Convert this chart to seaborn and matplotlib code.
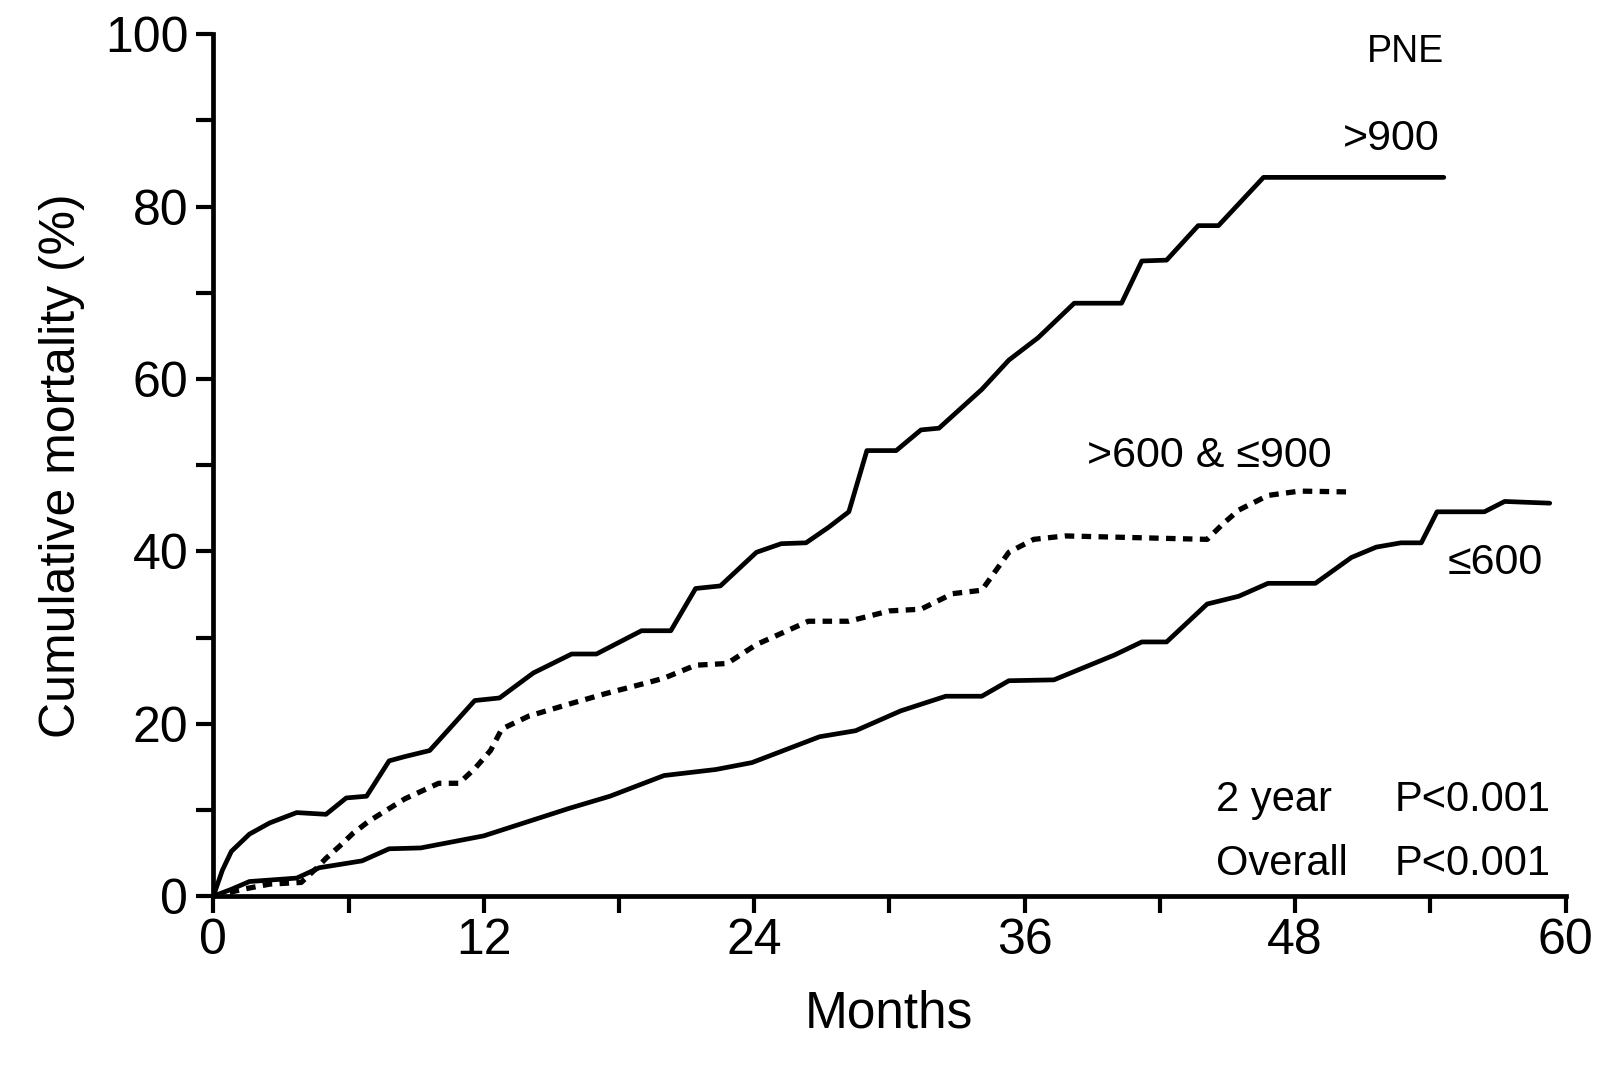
import pandas as pd
import seaborn as sns
import matplotlib.pyplot as plt
from matplotlib.ticker import MultipleLocator

sns.set_style("ticks")
plt.rcParams['font.family'] = ['Liberation Sans', 'DejaVu Sans']
plt.rcParams.update({"text.color": "black", "axes.labelcolor": "black",
                     "xtick.color": "black", "ytick.color": "black",
                     "axes.edgecolor": "black"})

# PNE > 900
hi_months = [0, 0.4, 0.8, 1.6, 2.5, 3.7, 5.0, 5.9, 6.8, 7.8, 8.5, 9.6, 10.5, 11.6, 12.7,
             14.2, 15.9, 17.0, 19.0, 20.3, 21.4, 22.5, 24.1, 25.2, 26.3, 27.3, 28.2,
             29.0, 30.3, 31.4, 32.2, 34.1, 35.3, 36.6, 38.2, 40.3, 41.2, 42.3, 43.7,
             44.6, 46.6, 54.6]
hi_pct = [0, 3.0, 5.2, 7.2, 8.5, 9.7, 9.5, 11.4, 11.6, 15.7, 16.2, 16.9, 19.5, 22.7, 23.0,
          25.9, 28.1, 28.1, 30.8, 30.8, 35.7, 36.0, 39.9, 40.9, 41.0, 42.8, 44.6,
          51.7, 51.7, 54.1, 54.3, 58.8, 62.2, 64.8, 68.8, 68.8, 73.7, 73.8, 77.8,
          77.8, 83.4, 83.4]

# PNE > 600 & <= 900
mid_months = [0, 1.3, 2.5, 3.9, 4.6, 5.0, 5.6, 6.2, 6.9, 8.5, 10.0, 10.9, 11.6, 12.3,
              12.8, 14.0, 15.8, 17.4, 19.3, 20.0, 21.4, 22.8, 24.1, 26.4, 28.2, 30.0,
              31.4, 32.8, 34.1, 35.3, 36.4, 37.8, 44.1, 44.8, 45.5, 46.8, 48.2, 50.5]
mid_pct = [0, 0.8, 1.4, 1.6, 3.3, 4.4, 5.8, 7.3, 8.7, 11.3, 13.1, 13.1, 14.8, 16.9,
           19.4, 20.9, 22.3, 23.5, 24.8, 25.3, 26.8, 27.0, 29.2, 31.9, 31.9, 33.1,
           33.3, 35.1, 35.5, 39.9, 41.4, 41.8, 41.4, 43.2, 44.8, 46.5, 47.0, 46.9]

# PNE <= 600
lo_months = [0, 0.8, 1.6, 3.7, 4.7, 6.6, 7.8, 9.2, 12.0, 15.8, 17.6, 20.0, 22.3, 23.9,
             26.9, 28.5, 30.5, 32.5, 34.1, 35.3, 37.3, 40.0, 41.2, 42.3, 44.1, 45.5,
             46.8, 48.9, 50.5, 51.6, 52.7, 53.6, 54.3, 56.4, 57.3, 59.3]
lo_pct = [0, 0.8, 1.7, 2.1, 3.3, 4.1, 5.5, 5.6, 7.0, 10.2, 11.6, 14.0, 14.7, 15.5,
          18.5, 19.2, 21.5, 23.2, 23.2, 25.0, 25.1, 28.0, 29.5, 29.5, 33.9, 34.8,
          36.3, 36.3, 39.3, 40.5, 41.0, 41.0, 44.6, 44.6, 45.8, 45.6]

fig = plt.figure(figsize=(16.04, 10.72), dpi=100)
ax = fig.add_axes([0.133, 0.164, 0.843, 0.804])

sns.lineplot(x=hi_months, y=hi_pct, ax=ax, color="black", lw=3.4, estimator=None, sort=False)
sns.lineplot(x=lo_months, y=lo_pct, ax=ax, color="black", lw=3.4, estimator=None, sort=False)
sns.lineplot(x=mid_months, y=mid_pct, ax=ax, color="black", lw=3.8, estimator=None,
             sort=False, linestyle=(0, (1.8, 1.4)))

ax.set_xlim(0, 60)
ax.set_ylim(0, 100)
ax.xaxis.set_major_locator(MultipleLocator(12))
ax.xaxis.set_minor_locator(MultipleLocator(6))
ax.yaxis.set_major_locator(MultipleLocator(20))
ax.yaxis.set_minor_locator(MultipleLocator(10))
sns.despine(ax=ax)
for s in ["left", "bottom"]:
    ax.spines[s].set_linewidth(3.4)
ax.tick_params(which="both", direction="out", length=12, width=3, color="black")
ax.tick_params(axis="y", labelsize=36, pad=6)
ax.tick_params(axis="x", labelsize=36, pad=4)

ax.set_xlabel("Months", fontsize=37, labelpad=18)
ax.set_ylabel("Cumulative mortality (%)", fontsize=36, labelpad=14)

ax.text(54.6, 98, "PNE", fontsize=27, ha="right", va="center")
ax.text(54.4, 87.9, ">900", fontsize=31, ha="right", va="center")
ax.text(44.2, 51.1, ">600 & ≤900", fontsize=31, ha="center", va="center")
ax.text(56.9, 38.7, "≤600", fontsize=31, ha="center", va="center")
ax.text(44.5, 11.2, "2 year", fontsize=30, ha="left", va="center")
ax.text(52.4, 11.2, "P<0.001", fontsize=30, ha="left", va="center")
ax.text(44.5, 3.7, "Overall", fontsize=30, ha="left", va="center")
ax.text(52.4, 3.7, "P<0.001", fontsize=30, ha="left", va="center")

fig.savefig("out.png", dpi=100)
